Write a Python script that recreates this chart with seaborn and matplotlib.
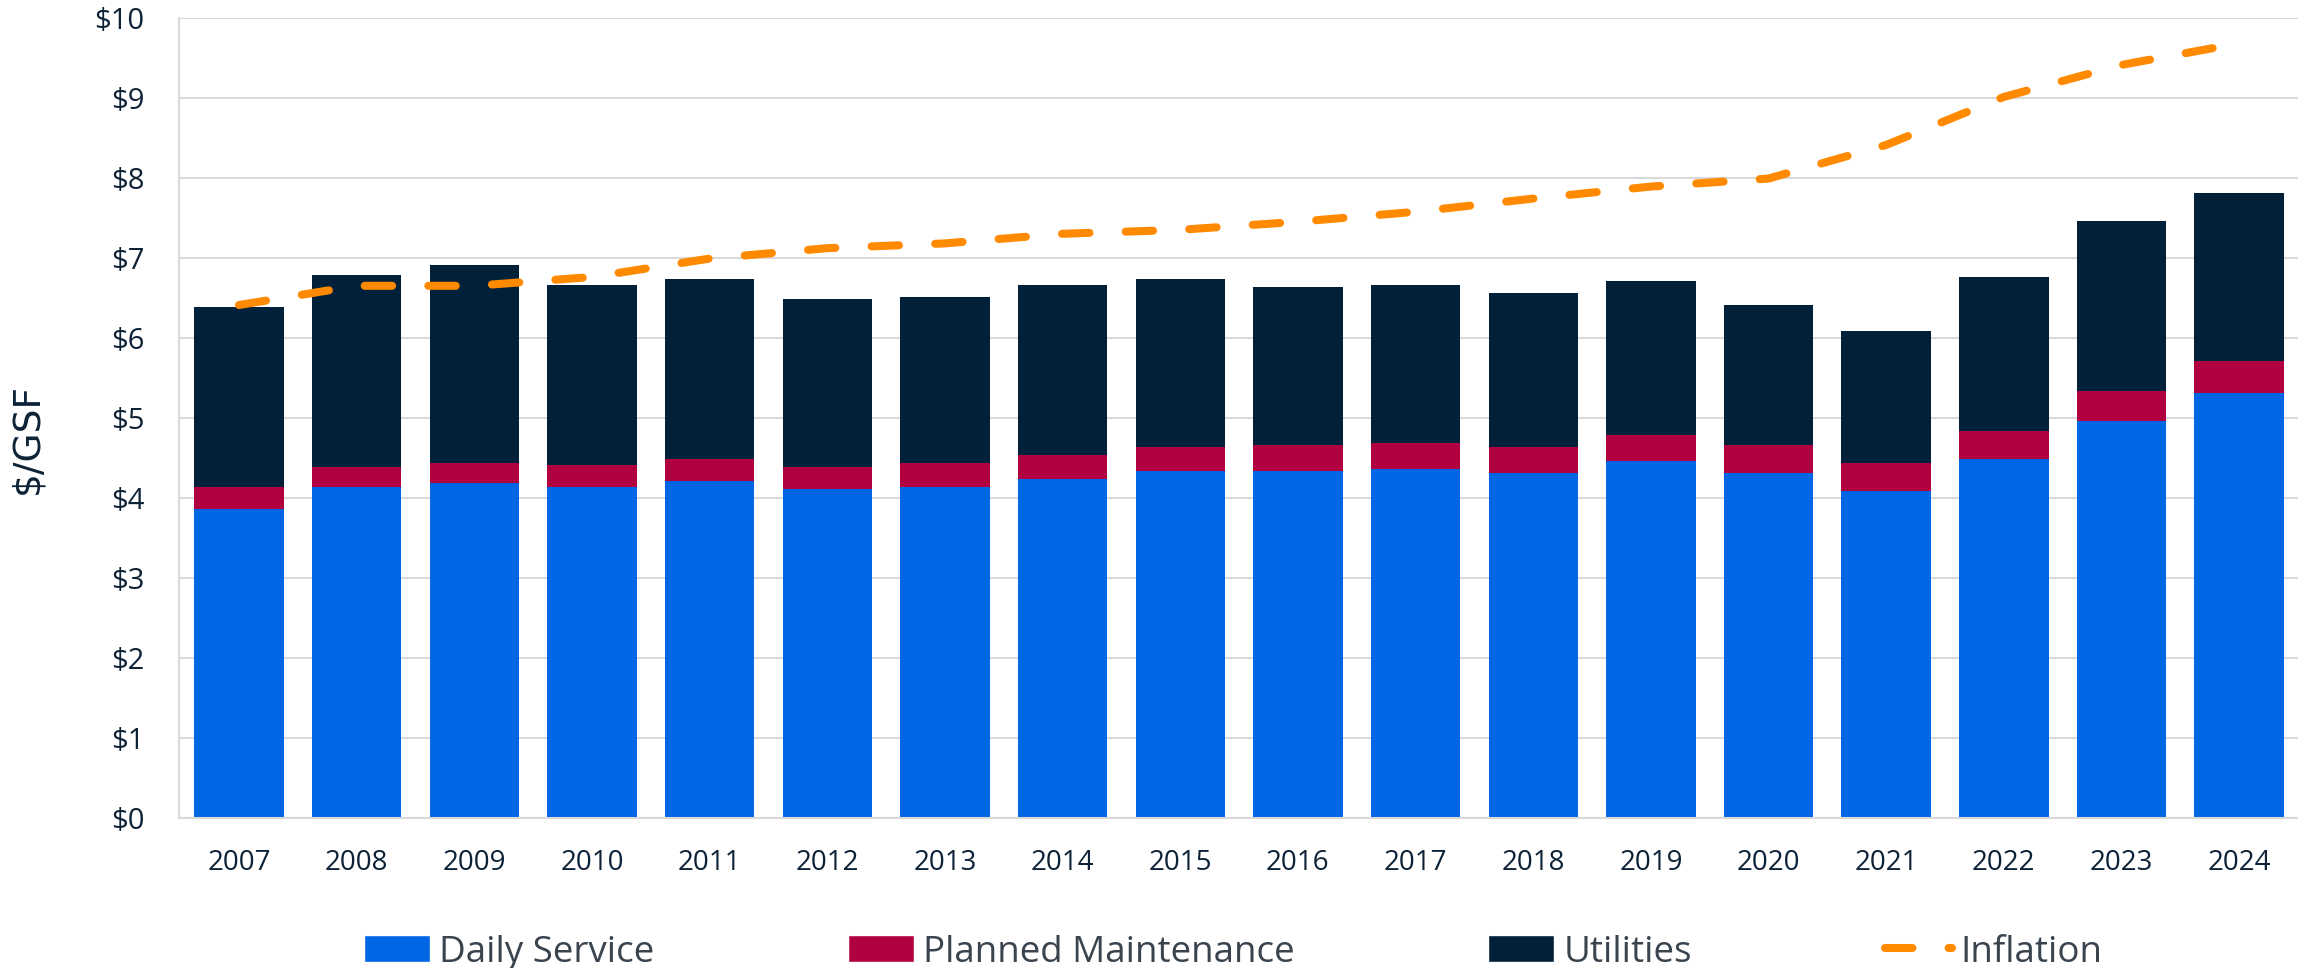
import numpy as np
import pandas as pd
import matplotlib
matplotlib.use("Agg")
import matplotlib.pyplot as plt
import seaborn as sns
from matplotlib.patches import Patch
from matplotlib.lines import Line2D

years = [str(y) for y in range(2007, 2025)]
daily_service = [3.86, 4.14, 4.18, 4.14, 4.21, 4.11, 4.14, 4.23, 4.33, 4.33,
                 4.36, 4.31, 4.46, 4.31, 4.09, 4.48, 4.96, 5.31]
planned_maintenance = [0.28, 0.24, 0.25, 0.27, 0.27, 0.27, 0.29, 0.30, 0.30, 0.33,
                       0.32, 0.32, 0.32, 0.35, 0.34, 0.35, 0.37, 0.40]
utilities = [2.24, 2.40, 2.48, 2.25, 2.25, 2.10, 2.08, 2.13, 2.10, 1.97,
             1.98, 1.93, 1.93, 1.75, 1.65, 1.93, 2.13, 2.10]
inflation = [6.41, 6.65, 6.65, 6.76, 6.99, 7.12, 7.18, 7.30, 7.35, 7.45,
             7.575, 7.74, 7.89, 7.99, 8.41, 9.01, 9.41, 9.68]
y_ticks = [0, 1, 2, 3, 4, 5, 6, 7, 8, 9, 10]
y_ticklabels = ["$" + str(v) for v in y_ticks]

C_DAILY = "#0066E4"
C_PLANNED = "#B10040"
C_UTIL = "#012039"
C_INFL = "#FF8A00"
C_TICK = "#0D2236"
C_LEG = "#3A444F"

sns.set_theme(style="white")
plt.rcParams["font.family"] = ["Open Sans", "DejaVu Sans"]

df = pd.DataFrame({
    "year": years,
    "daily": daily_service,
    "planned": planned_maintenance,
    "util": utilities,
    "infl": inflation,
})
df["lvl2"] = df["daily"] + df["planned"]
df["lvl3"] = df["lvl2"] + df["util"]

fig = plt.figure(figsize=(22.98, 9.68), dpi=100)
ax = fig.add_axes([179 / 2298, (968 - 818) / 968, 1 - 179 / 2298, (818 - 17.7) / 968])

w = 0.76
for col, c in [("lvl3", C_UTIL), ("lvl2", C_PLANNED), ("daily", C_DAILY)]:
    sns.barplot(data=df, x="year", y=col, color=c, width=w, saturation=1,
                linewidth=0, ax=ax, zorder=2)
sns.lineplot(data=df, x="year", y="infl", color=C_INFL, lw=5.8, ax=ax, zorder=3,
             sort=False)
line = ax.lines[-1]
line.set_dashes((3.4, 4.5))
line.set_dash_capstyle("round")
line.set_solid_capstyle("round")

ax.set_ylim(0, 10)
ax.set_xlim(-0.51, 17.5)
ax.set_yticks(y_ticks)
ax.set_yticklabels(y_ticklabels)
ax.yaxis.grid(True, color="#D9D9D9", lw=1.5, zorder=0)
ax.set_axisbelow(True)
ax.tick_params(axis="y", length=0, pad=25, labelsize=21, labelcolor=C_TICK)
ax.tick_params(axis="x", length=0, pad=22, labelsize=20, labelcolor=C_TICK)
ax.set_xlabel("")
ax.set_ylabel("")
for s in ["top", "right"]:
    ax.spines[s].set_visible(False)
ax.spines["left"].set_color("#D9D9D9")
ax.spines["left"].set_linewidth(1.5)
ax.spines["bottom"].set_color("#D9D9D9")
ax.spines["bottom"].set_linewidth(1.5)

fig.text(27 / 2298, 1 - 438 / 968, "$/GSF", rotation=90, ha="center", va="center",
         fontsize=27, color=C_TICK, family=["DejaVu Sans"])

handles = [
    Patch(facecolor=C_DAILY, label="Daily Service"),
    Patch(facecolor=C_PLANNED, label="Planned Maintenance"),
    Patch(facecolor=C_UTIL, label="Utilities"),
    Line2D([0], [0], color=C_INFL, lw=5.8, dashes=(3.4, 4.5), dash_capstyle="round",
           label="Inflation"),
]
leg = fig.legend(handles=handles, loc="center", bbox_to_anchor=(0.5367, 0.016),
                 ncol=4, frameon=False, fontsize=26.5, handlelength=1.8,
                 handleheight=0.75, handletextpad=0.25, columnspacing=5.25)
for t in leg.get_texts():
    t.set_color(C_LEG)

fig.savefig("out.png", dpi=100)
